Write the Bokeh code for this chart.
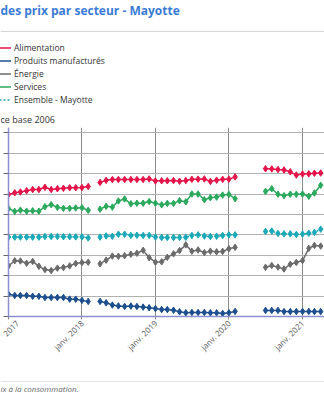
import numpy as np
import pandas as pd
from math import pi
from bokeh.plotting import figure
from bokeh.layouts import column
from bokeh.models import (Range1d, FixedTicker, CustomJSTickFormatter, Legend, LegendItem,
                          Label, Span, ColumnDataSource)
from bokeh.embed import file_html
from bokeh.resources import INLINE

N = np.nan
months = pd.date_range("2017-01-01", "2021-04-01", freq="MS")

alimentation = [149.8, 150.6, 151.0, 151.6, 152.2, 152.2, 153.3, 152.2, 152.6, 152.8, 153.1, 153.1, 153.2, 153.7,
                N,
                155.7, 156.7, 157.1, 157.1, 157.1, 157.1, 157.1, 157.1, 157.4, 156.4, 156.5, 156.5, 156.6, 156.3,
                156.6, 157.2, 157.3, 157.4, 156.2, 156.8, 157.2, 157.3, 158.4,
                N, N, N, N,
                162.4, 162.3, 162.0, 161.8, 160.9, 159.3, 159.8, 159.9, 160.2, 160.3]
manufactures = [100.9, 100.3, 100.3, 100.3, 99.9, 99.9, 99.3, 99.3, 99.3, 99.3, 98.5, 98.5, 97.9, 97.4,
                N,
                97.4, 96.7, 95.6, 95.2, 94.9, 95.1, 94.9, 94.6, 94.3, 93.9, 93.4, 93.4, 93.1, 92.3,
                91.8, 92.0, 92.0, 92.0, 91.8, 91.8, 91.5, 91.8, 92.5,
                N, N, N, N,
                93.0, 93.0, 93.0, 92.4, 92.4, 92.4, 92.5, 92.5, 92.4, 92.4]
energie = [114.8, 117.3, 117.2, 116.1, 117.0, 114.6, 113.0, 112.5, 113.7, 114.0, 114.8, 116.0, 116.4, 116.6,
           N,
           115.8, 117.6, 119.6, 119.5, 119.8, 120.5, 121.0, 122.4, 118.8, 116.6, 116.8, 119.0, 120.7, 122.3,
           125.1, 122.0, 122.6, 121.3, 122.0, 121.7, 121.9, 123.2, 123.9,
           N, N, N, N,
           114.1, 115.0, 114.2, 113.3, 115.6, 116.5, 117.4, 123.4, 124.8, 124.5]
services = [142.9, 141.5, 142.1, 141.6, 141.8, 141.6, 143.8, 144.8, 143.5, 143.0, 143.0, 143.2, 143.3, 142.0,
            N,
            142.6, 144.0, 143.6, 146.6, 147.6, 145.2, 145.5, 145.5, 146.3, 145.5, 144.7, 145.4, 145.4, 146.7,
            146.2, 150.0, 150.0, 147.2, 148.2, 148.5, 149.5, 149.8, 147.7,
            N, N, N, N,
            151.3, 152.6, 149.9, 149.2, 149.9, 149.9, 150.0, 148.9, 150.5, 154.3]
ensemble = [128.9, 128.9, 128.9, 128.9, 128.9, 128.9, 129.2, 129.2, 129.2, 129.1, 129.1, 129.0, 129.0, 128.5,
            N,
            128.9, 129.5, 129.3, 130.3, 130.3, 129.7, 129.8, 129.7, 129.7, 128.9, 128.7, 128.7, 128.7, 128.7,
            128.8, 129.7, 130.0, 129.4, 129.2, 129.3, 129.7, 130.0, 130.0,
            N, N, N, N,
            131.7, 131.9, 130.7, 130.5, 130.5, 130.2, 130.4, 130.8, 131.2, 132.8]

series_names = ["Alimentation", "Produits manufacturés", "Énergie", "Services", "Ensemble - Mayotte"]
series_values = [alimentation, manufactures, energie, services, ensemble]
series_colors = ["#e4154b", "#1d4f8f", "#6b6b6b", "#2ba95c", "#1aa9b8"]
series_dash = ["solid", "solid", "solid", "solid", "2 2"]
tick_dates = ["2017-01-01", "2018-01-01", "2019-01-01", "2020-01-01", "2021-01-01"]
tick_labels = ["2017", "janv. 2018", "janv. 2019", "janv. 2020", "janv. 2021"]
y_ticks = [90, 100, 110, 120, 130, 140, 150, 160, 170, 180]

title_text = "des prix par secteur - Mayotte"
unit_text = "ce base 2006"
source_text = "ix à la consommation."

for s in series_values:
    assert len(s) == len(months)

W = 324
HDR_H = 127
MAIN_H = 239
FTR_H = 400 - HDR_H - MAIN_H
FONT = "Open Sans"


def no_align(f):
    if hasattr(type(f), "frame_align"):
        f.frame_align = False
    return f


def text_panel(height):
    f = figure(width=W, height=height, output_backend="svg", toolbar_location=None,
               x_axis_location=None, y_axis_location=None,
               x_range=Range1d(0, W), y_range=Range1d(height, 0),
               min_border=0, min_border_left=0, min_border_right=0, min_border_top=0, min_border_bottom=0)
    f.grid.visible = False
    f.outline_line_color = None
    f.background_fill_color = "white"
    f.border_fill_color = "white"
    return no_align(f)


# ---------------- header: title, separator, legend, unit ----------------
hdr = text_panel(HDR_H)
hdr.add_layout(Label(x=0, y=10, text=title_text, text_font=FONT, text_font_style="bold",
                     text_font_size="12px", text_color="#3a7bd5", text_baseline="middle", text_align="left"))
hdr.add_layout(Span(location=31, dimension="width", line_color="#d5d5d5", line_width=1))
hdr.add_layout(Label(x=0, y=119, text=unit_text, text_font=FONT,
                     text_font_size="9px", text_color="#333333", text_baseline="middle", text_align="left"))

legend_items = []
for name, col, dash in zip(series_names, series_colors, series_dash):
    # legend-only renderer (no visible data point)
    r = hdr.line(x=[N], y=[N], line_color=col, line_width=1.5, line_dash=dash)
    legend_items.append(LegendItem(label=name, renderers=[r]))

legend = Legend(items=legend_items, location=(-9, HDR_H - 106))
legend.padding = 0
legend.margin = 0
legend.spacing = 0
legend.glyph_width = 20
legend.glyph_height = 13
legend.label_height = 13
legend.label_standoff = 3
legend.label_text_font = FONT
legend.label_text_font_size = "8.5px"
legend.label_text_color = "#333333"
legend.border_line_alpha = 0
legend.background_fill_alpha = 0
hdr.add_layout(legend)

# ---------------- main chart ----------------
x0 = pd.Timestamp("2017-01-01")
p = figure(width=W, height=MAIN_H, output_backend="svg", toolbar_location=None,
           x_axis_type="datetime",
           x_range=Range1d(x0, x0 + pd.Timedelta(days=1570)),
           y_range=Range1d(90, 182.6),
           min_border_left=8, min_border_right=0, min_border_top=0, min_border_bottom=MAIN_H - 189)
no_align(p)
p.outline_line_color = None
p.background_fill_color = "white"
p.border_fill_color = "white"

ticks_ms = [pd.Timestamp(d).value // 10**6 for d in tick_dates]
p.xaxis.ticker = FixedTicker(ticks=ticks_ms, minor_ticks=[])
p.xaxis.formatter = CustomJSTickFormatter(
    args=dict(tick_ms=ticks_ms, tick_texts=tick_labels),
    code="const i = tick_ms.indexOf(tick); return i >= 0 ? tick_texts[i] : '';")
p.xaxis.major_label_orientation = pi / 4
p.xaxis.major_label_text_font = FONT
p.xaxis.major_label_text_font_size = "8px"
p.xaxis.major_label_text_color = "#555555"
p.xaxis.major_label_standoff = 2
p.xaxis.axis_line_color = "#8a8fd0"
p.xaxis.axis_line_width = 1.5
p.xaxis.major_tick_out = 3
p.xaxis.major_tick_in = 0
p.xaxis.major_tick_line_color = "#8c8c8c"
p.xaxis.minor_tick_line_color = None
p.xgrid.grid_line_color = "#8c8c8c"
p.xgrid.grid_line_width = 1

p.yaxis.ticker = FixedTicker(ticks=y_ticks, minor_ticks=[])
p.yaxis.formatter = CustomJSTickFormatter(code="return '';")
p.yaxis.major_label_standoff = 0
p.yaxis.major_tick_out = 5
p.yaxis.major_tick_in = 0
p.yaxis.major_tick_line_color = "#666666"
p.yaxis.minor_tick_line_color = None
p.yaxis.axis_line_color = "#8a8fd0"
p.yaxis.axis_line_width = 1.5
p.ygrid.grid_line_color = "#b0b0b0"
p.ygrid.grid_line_width = 1

for name, vals, col, dash in zip(series_names, series_values, series_colors, series_dash):
    src = ColumnDataSource(dict(x=months, y=np.array(vals, dtype=float)))
    p.line("x", "y", source=src, line_color=col, line_width=1.5, line_dash=dash)
    p.scatter("x", "y", source=src, marker="diamond", size=6.5, color=col)

# ---------------- footer: separator and source ----------------
ftr = text_panel(FTR_H)
ftr.add_layout(Span(location=381 - (HDR_H + MAIN_H), dimension="width", line_color="#e3e3e3", line_width=1))
ftr.add_layout(Label(x=0, y=388 - (HDR_H + MAIN_H), text=source_text, text_font=FONT, text_font_style="italic",
                     text_font_size="8px", text_color="#666666", text_baseline="middle", text_align="left"))

layout = column(hdr, p, ftr, spacing=0)
open("out.html", "w").write(file_html(layout, INLINE))
